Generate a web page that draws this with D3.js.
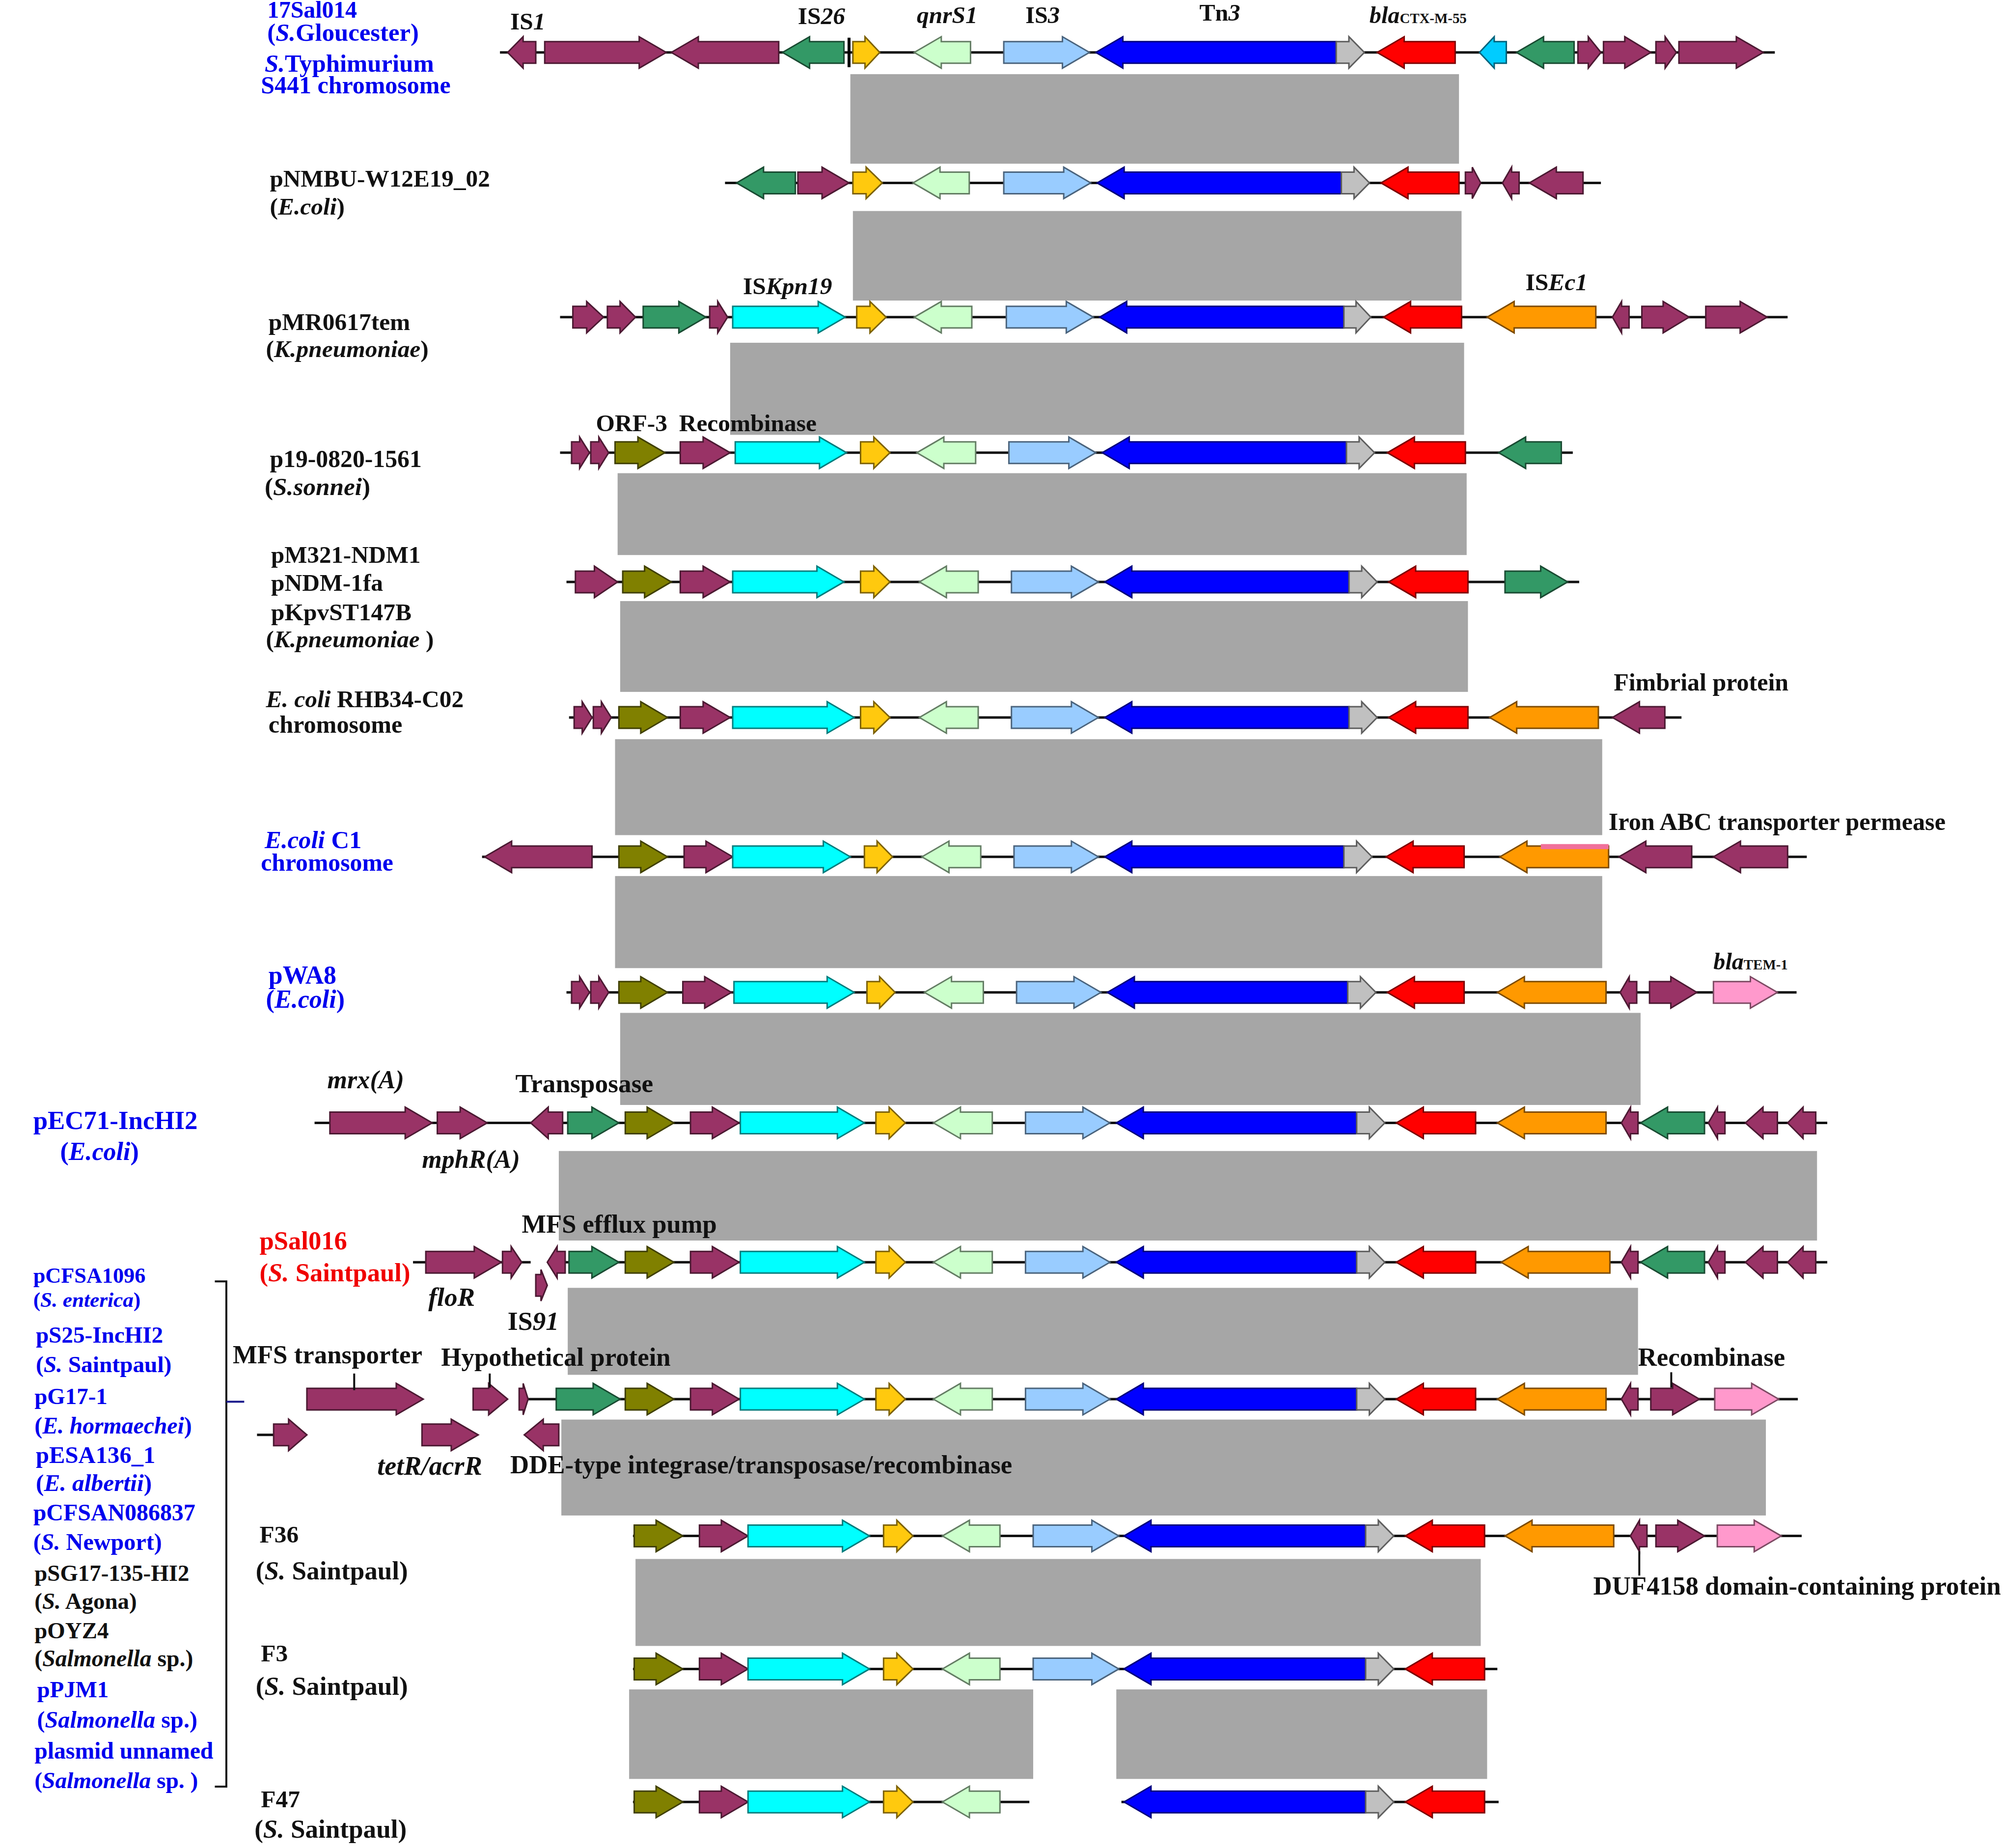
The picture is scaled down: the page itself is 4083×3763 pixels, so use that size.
<!DOCTYPE html>
<html>
<head>
<meta charset="utf-8">
<script src="https://cdn.jsdelivr.net/npm/d3@7"></script>
<style>
  html, body { margin: 0; background: #fff; }
  text { font-family: "Liberation Serif", serif; font-weight: bold; }
</style>
</head>
<body>
<svg id="vec" width="4083" height="3763"></svg>
<script>
// all positions below are read off the picture, in units of a 1568 x 1445 reading grid
// gene = [start, end, strand, family]
const row1 = [[397,419,-1,'tnp'],[426,521,1,'tnp'],[525,609,-1,'tnp'],[612,660,-1,'green'],[667,688,1,'yellow'],[715,759,-1,'qnr'],[785,852,1,'is3'],[857,1045,-1,'tn3'],[1045,1067,1,'grey'],[1077,1138,-1,'ctx'],[1157,1178,-1,'sky'],[1186,1231,-1,'green'],[1234,1252,1,'tnp'],[1254,1291,1,'tnp'],[1295,1311,1,'tnp'],[1313,1379,1,'tnp']];
const row2 = [[576,622,-1,'green'],[624,664,1,'tnp'],[667,690,1,'yellow'],[714,758,-1,'qnr'],[785,853,1,'is3'],[858,1049,-1,'tn3'],[1049,1071,1,'grey'],[1080,1141,-1,'ctx'],[1146,1158,1,'tnp'],[1175,1188,-1,'tnp'],[1196,1238,-1,'tnp']];
const row3 = [[448,472,1,'tnp'],[475,497,1,'tnp'],[503,552,1,'green'],[555,569,1,'tnp'],[573,661,1,'kpn'],[670,693,1,'yellow'],[715,760,-1,'qnr'],[787,855,1,'is3'],[860,1051,-1,'tn3'],[1051,1072,1,'grey'],[1082,1143,-1,'ctx'],[1163,1248,-1,'ec1'],[1261,1274,-1,'tnp'],[1284,1321,1,'tnp'],[1334,1382,1,'tnp']];
const row4 = [[447,461,1,'tnp'],[462,476,1,'tnp'],[481,520,1,'orf'],[532,571,1,'tnp'],[575,662,1,'kpn'],[673,696,1,'yellow'],[717,763,-1,'qnr'],[789,857,1,'is3'],[862,1053,-1,'tn3'],[1053,1075,1,'grey'],[1085,1146,-1,'ctx'],[1172,1221,-1,'green']];
const row5 = [[450,483,1,'tnp'],[487,525,1,'orf'],[532,571,1,'tnp'],[573,660,1,'kpn'],[673,696,1,'yellow'],[719,765,-1,'qnr'],[791,859,1,'is3'],[864,1055,-1,'tn3'],[1055,1077,1,'grey'],[1086,1148,-1,'ctx'],[1177,1226,1,'green']];
const row6 = [[449,463,1,'tnp'],[464,478,1,'tnp'],[484,522,1,'orf'],[532,571,1,'tnp'],[573,668,1,'kpn'],[673,696,1,'yellow'],[719,765,-1,'qnr'],[791,859,1,'is3'],[864,1055,-1,'tn3'],[1055,1077,1,'grey'],[1086,1148,-1,'ctx'],[1165,1250,-1,'ec1'],[1261,1302,-1,'tnp']];
const row7 = [[379,463,-1,'tnp'],[484,522,1,'orf'],[535,573,1,'tnp'],[573,665,1,'kpn'],[676,698,1,'yellow'],[721,767,-1,'qnr'],[793,859,1,'is3'],[864,1051,-1,'tn3'],[1051,1073,1,'grey'],[1084,1145,-1,'ctx'],[1173,1258,-1,'ec1'],[1266,1323,-1,'tnp'],[1340,1398,-1,'tnp']];
const row8 = [[447,461,1,'tnp'],[462,476,1,'tnp'],[484,522,1,'orf'],[534,572,1,'tnp'],[574,668,1,'kpn'],[678,700,1,'yellow'],[723,769,-1,'qnr'],[795,861,1,'is3'],[866,1054,-1,'tn3'],[1054,1076,1,'grey'],[1085,1145,-1,'ctx'],[1171,1256,-1,'ec1'],[1267,1280,-1,'tnp'],[1290,1327,1,'tnp'],[1340,1390,1,'tem']];
const row9 = [[258,338,1,'tnp'],[342,381,1,'tnp'],[415,440,-1,'tnp'],[444,484,1,'green'],[489,527,1,'orf'],[540,578,1,'tnp'],[579,676,1,'kpn'],[685,708,1,'yellow'],[730,776,-1,'qnr'],[802,868,1,'is3'],[873,1061,-1,'tn3'],[1061,1083,1,'grey'],[1092,1154,-1,'ctx'],[1171,1256,-1,'ec1'],[1268,1281,-1,'tnp'],[1283,1333,-1,'green'],[1336,1349,-1,'tnp'],[1365,1390,-1,'tnp'],[1398,1420,-1,'tnp']];
const row10 = [[333,392,1,'tnp'],[393,408,1,'tnp'],[428,442,-1,'tnp'],[445,484,1,'green'],[489,527,1,'orf'],[540,578,1,'tnp'],[579,676,1,'kpn'],[685,708,1,'yellow'],[730,776,-1,'qnr'],[802,868,1,'is3'],[873,1061,-1,'tn3'],[1061,1083,1,'grey'],[1092,1154,-1,'ctx'],[1174,1259,-1,'ec1'],[1268,1281,-1,'tnp'],[1283,1333,-1,'green'],[1336,1349,-1,'tnp'],[1365,1390,-1,'tnp'],[1398,1420,-1,'tnp']];
const row10b = [[419,428,1,'tnp']];
const row11 = [[240,331,1,'tnp'],[370,397,1,'tnp'],[406,413,1,'tnp'],[435,485,1,'green'],[489,527,1,'orf'],[540,578,1,'tnp'],[579,676,1,'kpn'],[685,708,1,'yellow'],[730,776,-1,'qnr'],[802,868,1,'is3'],[873,1061,-1,'tn3'],[1061,1083,1,'grey'],[1092,1154,-1,'ctx'],[1171,1256,-1,'ec1'],[1268,1281,-1,'tnp'],[1291,1329,1,'tnp'],[1341,1391,1,'tem']];
const row11b = [[214,240,1,'tnp'],[330,374,1,'tnp'],[410,437,-1,'tnp']];
const row12 = [[496,534,1,'orf'],[547,585,1,'tnp'],[585,680,1,'kpn'],[691,714,1,'yellow'],[737,782,-1,'qnr'],[808,875,1,'is3'],[879,1068,-1,'tn3'],[1068,1090,1,'grey'],[1099,1161,-1,'ctx'],[1177,1262,-1,'ec1'],[1275,1288,-1,'tnp'],[1295,1333,1,'tnp'],[1343,1393,1,'tem']];
const row13 = [[496,534,1,'orf'],[547,585,1,'tnp'],[585,680,1,'kpn'],[691,714,1,'yellow'],[737,782,-1,'qnr'],[808,875,1,'is3'],[879,1068,-1,'tn3'],[1068,1090,1,'grey'],[1099,1161,-1,'ctx']];
const row14 = [[496,534,1,'orf'],[547,585,1,'tnp'],[585,680,1,'kpn'],[691,714,1,'yellow'],[737,782,-1,'qnr'],[879,1068,-1,'tn3'],[1068,1090,1,'grey'],[1099,1161,-1,'ctx']];

const rows = [row1,row2,row3,row4,row5,row6,row7,row8,row9,row10,row10b,row11,row11b,row12,row13,row14];
const rowY = [41,143,248,354,455,561,670,776,878,987,1005,1094,1122,1201,1305,1409];
// backbone segments per row
const rowLines = [[[391,1388]],[[567,1252]],[[438,1398]],[[438,1230]],[[443,1235]],[[445,1315]],[[377,1413]],[[443,1405]],[[246,1429]],[[323,415],[428,1429]],[],[[413,1406]],[[201,214]],[[495,1409]],[[495,1171]],[[495,805],[877,1172]]];

// homology blocks = [x0, x1, y0, y1]
const blocks = [[665,1141,58,128],[667,1143,165,235],[571,1145,268,340],[483,1147,370,434],[485,1148,470,541],[481,1253,578,653],[481,1253,685,757],[485,1283,792,864],[437,1421,900,970],[444,1281,1007,1075],[439,1381,1110,1185],[497,1158,1219,1287],[492,808,1321,1391],[873,1163,1321,1391]];

const labelTexts = [
  '17Sal014','(*S.*Gloucester)','*S.*Typhimurium','S441 chromosome','IS*1*','IS*26*','*qnrS1*','IS*3*','Tn*3*','*bla*~CTX-M-55~',
  'pNMBU-W12E19_02','(*E.coli*)','IS*Kpn19*','IS*Ec1*','pMR0617tem','(*K.pneumoniae*)','ORF-3','Recombinase',
  'p19-0820-1561','(*S.sonnei*)','pM321-NDM1','pNDM-1fa','pKpvST147B','(*K.pneumoniae* )','*E. coli* RHB34-C02','chromosome',
  'Fimbrial protein','*E.coli* C1','chromosome','Iron ABC transporter permease','pWA8','(*E.coli*)','*bla*~TEM-1~',
  'Transposase','*mrx(A)*','pEC71-IncHI2','(*E.coli*)','*mphR(A)*','MFS efflux pump','pSal016','(*S.* Saintpaul)','*floR*','IS*91*',
  'pCFSA1096','(*S. enterica*)','pS25-IncHI2','(*S.* Saintpaul)','pG17-1','(*E. hormaechei*)','pESA136_1','(*E. albertii*)',
  'pCFSAN086837','(*S.* Newport)','pSG17-135-HI2','(*S.* Agona)','pOYZ4','(*Salmonella* sp.)','pPJM1','(*Salmonella* sp.)','plasmid unnamed','(*Salmonella* sp. )',
  'MFS transporter','Hypothetical protein','Recombinase','DUF4158 domain-containing protein','*tetR/acrR*','DDE-type integrase/transposase/recombinase',
  'F36','(*S.* Saintpaul)','F3','(*S.* Saintpaul)','F47','(*S.* Saintpaul)'
];
// [x, baseline, size, colour] in the same order as labelTexts
const B = '#0000ee', K = '#111', R = '#f00000';
const labelAt = [
  [209,14,18.3,B],[209,32,19.5,B],[207,56,19.5,B],[204,73,19.2,B],[399,23,19,K],[624,19,19,K],[717,18,19,K],[802,18,18.5,K],[938,16,18.5,K],[1071,18,18.5,K],
  [211,146,18.9,K],[211,168,19,K],[581,230,19,K],[1193,227,19,K],[210,258,19,K],[208,279,19,K],[466,337,19,K],[531,337,19,K],
  [211,365,19.1,K],[207,387,19.7,K],[212,440,18.8,K],[212,462,19,K],[212,485,19,K],[208,506,18.9,K],[208,553,19,K],[210,573,19.3,K],
  [1262,540,19.2,K],[207,663,19.5,B],[204,681,19.1,B],[1258,649,19.3,K],[210,769,19.9,B],[208,788,20,B],[1340,758,18.5,K],
  [403,854,20.5,K],[256,851,20,K],[26,883,20.3,B],[47,907,20,B],[330,913,20,K],[408,964,20.2,K],[203,977,20.2,R],[203,1002,20.2,R],[335,1021,20.5,K],[397,1040,20.6,K],
  [26,1003,17,B],[26,1022,16.6,B],[28,1050,18.1,B],[28,1073,18.2,B],[27,1098,18,B],[27,1121,18.3,B],[28,1144,18.7,B],[28,1166,19,B],
  [26,1189,18.4,B],[26,1212,18.5,B],[27,1236,18,K],[27,1258,18,K],[27,1281,18,K],[27,1303,18.3,K],[29,1327,18,B],[29,1351,18.5,B],[27,1375,18.3,B],[27,1398,18.2,B],
  [182,1066,20.3,K],[345,1068,20.3,K],[1281,1068,20.3,K],[1246,1247,20.3,K],[295,1153,20.8,K],[399,1152,20.3,K],
  [203,1206,19,K],[200,1235,20.4,K],[204,1299,19,K],[200,1325,20.4,K],[204,1413,19,K],[199,1437,20.4,K]
];

// short leader ticks from gene labels = [x, y0, y1]
const ticks = [[277,1074,1087],[383,1074,1085],[1307,1073,1085],[1282,1213,1232]];

const familyColor = {
  tnp: '#993366', green: '#339966', yellow: '#ffc90e', qnr: '#ccffcc', is3: '#99ccff', tn3: '#0000ff',
  grey: '#c0c0c0', ctx: '#ff0000', sky: '#00ccff', kpn: '#00ffff', ec1: '#ff9900', orf: '#808000', tem: '#ff99cc'
};

const svg = d3.select('#vec');
const x = d3.scaleLinear().domain([0, 1568]).range([0, 4083]);
const y = d3.scaleLinear().domain([0, 1445]).range([0, 3763]);

svg.append('g').selectAll('rect')
  .data(blocks)
  .enter()
  .append('rect')
  .attr('x', (b) => x(b[0]))
  .attr('y', (b) => y(b[2]))
  .attr('width', (b) => x(b[1]) - x(b[0]))
  .attr('height', (b) => y(b[3]) - y(b[2]))
  .attr('fill', '#a6a6a6');

const bodyHalf = 22, headHalf = 32, headLen = 55;

// arrow outline for one gene, centred on cy
const arrowPath = (g, cy) => {
  const x0 = x(g[0]), x1 = x(g[1]);
  const head = Math.min(headLen, (x1 - x0) * 0.55);
  const pts = g[2] > 0
    ? [[x0, cy - bodyHalf], [x1 - head, cy - bodyHalf], [x1 - head, cy - headHalf], [x1, cy], [x1 - head, cy + headHalf], [x1 - head, cy + bodyHalf], [x0, cy + bodyHalf]]
    : [[x1, cy - bodyHalf], [x0 + head, cy - bodyHalf], [x0 + head, cy - headHalf], [x0, cy], [x0 + head, cy + headHalf], [x0 + head, cy + bodyHalf], [x1, cy + bodyHalf]];
  return d3.line()(pts) + 'Z';
};

const tracks = svg.selectAll('g.track')
  .data(rows)
  .enter()
  .append('g')
  .attr('class', 'track')
  .attr('transform', (r, i) => `translate(0, ${y(rowY[i])})`);

tracks.selectAll('line')
  .data((r, i) => rowLines[i])
  .enter()
  .append('line')
  .attr('x1', (s) => x(s[0]))
  .attr('x2', (s) => x(s[1]))
  .attr('stroke', '#111')
  .attr('stroke-width', 5);

tracks.selectAll('path')
  .data((r) => r)
  .enter()
  .append('path')
  .attr('d', (g) => arrowPath(g, 0))
  .attr('fill', (g) => familyColor[g[3]])
  .attr('stroke', (g) => d3.color(familyColor[g[3]]).darker(2))
  .attr('stroke-width', 3);

// black IS26 end marker in the first row
svg.append('line')
  .attr('x1', x(664)).attr('x2', x(664))
  .attr('y1', y(41) - 30).attr('y2', y(41) + 30)
  .attr('stroke', '#000').attr('stroke-width', 6);

// pink streak on the orange gene of the C1 row
svg.append('rect')
  .attr('x', x(1205)).attr('y', y(660))
  .attr('width', x(1258) - x(1205)).attr('height', y(664) - y(660))
  .attr('fill', '#f0709a');

// bracket beside the plasmid list
svg.append('path')
  .attr('d', d3.line()([[x(168), y(1002)], [x(177), y(1002)], [x(177), y(1397)], [x(168), y(1397)]]))
  .attr('fill', 'none').attr('stroke', '#111').attr('stroke-width', 4);
svg.append('line')
  .attr('x1', x(177)).attr('x2', x(191)).attr('y1', y(1096)).attr('y2', y(1096))
  .attr('stroke', '#1a1a8c').attr('stroke-width', 4);

svg.append('g').selectAll('line')
  .data(ticks)
  .enter()
  .append('line')
  .attr('x1', (t) => x(t[0])).attr('x2', (t) => x(t[0]))
  .attr('y1', (t) => y(t[1])).attr('y2', (t) => y(t[2]))
  .attr('stroke', '#111').attr('stroke-width', 4);

// *italic* and ~small~ markup in the label strings
const labels = svg.append('g').selectAll('text')
  .data(labelTexts)
  .enter()
  .append('text')
  .attr('x', (t, i) => x(labelAt[i][0]))
  .attr('y', (t, i) => y(labelAt[i][1]))
  .attr('font-size', (t, i) => x(labelAt[i][2]))
  .attr('fill', (t, i) => labelAt[i][3])
  .attr('xml:space', 'preserve');

labels.each(function (t) {
  const el = d3.select(this);
  t.split(/(\*[^*]+\*|~[^~]+~)/).filter((p) => p).forEach((p) => {
    const span = el.append('tspan').text(p.replace(/[*~]/g, ''));
    if (p[0] === '*') span.attr('font-style', 'italic');
    if (p[0] === '~') span.attr('font-size', '60%');
  });
});
</script>
</body>
</html>
